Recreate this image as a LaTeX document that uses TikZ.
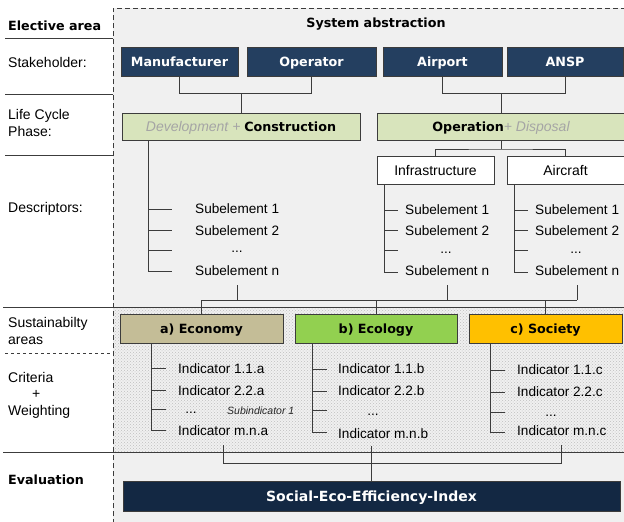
\documentclass[tikz,border=0pt]{standalone}
\usepackage{fontspec}
\setmainfont{Liberation Sans}
\newfontfamily\headfont{DejaVu Sans}
\usetikzlibrary{patterns}
\definecolor{paper}{RGB}{240,240,240}
\definecolor{stakeblue}{RGB}{36,63,96}
\definecolor{indexblue}{RGB}{19,40,67}
\definecolor{phasegreen}{RGB}{216,228,188}
\definecolor{econtan}{RGB}{196,189,151}
\definecolor{ecogreen}{RGB}{146,208,80}
\definecolor{socgold}{RGB}{255,192,0}
\definecolor{linegray}{RGB}{60,60,60}
\definecolor{softgray}{RGB}{165,165,165}
\newcommand\headtext[1]{{\headfont\bfseries\fontsize{12.7}{15}\selectfont #1}}

\tikzset{
  wire/.style={draw=linegray,line width=0.9pt},
  lbl/.style={anchor=west,inner sep=0pt,align=left,font=\fontsize{14}{16.5}\selectfont},
  hd/.style={font=\headfont\bfseries\fontsize{12.7}{15}\selectfont},
  box/.style={draw=linegray,line width=0.9pt,inner sep=0pt,text depth=0pt},
  stake/.style={box,hd,fill=stakeblue,text=white,minimum height=29pt,text height=9.3pt},
  lcphase/.style={box,fill=phasegreen,minimum height=27pt,text height=10pt,font=\fontsize{14}{17}\selectfont},
  desc/.style={box,fill=white,minimum height=28pt,text height=10pt,font=\fontsize{14}{17}\selectfont},
  sustbox/.style={box,hd,minimum height=29pt,text height=9.3pt},
  item/.style={anchor=west,inner sep=0pt,font=\fontsize{13.6}{16}\selectfont},
}

\begin{document}
\begin{tikzpicture}[x=1pt,y=-1pt]
\clip (0,0) rectangle (624,522);
\fill[white] (0,0) rectangle (624,522);
% working area with the shaded band
\fill[paper] (113,8) rectangle (640,540);
\fill[black!6] (113,308) rectangle (640,452);
\fill[pattern=crosshatch dots,pattern color=black!25] (113,308) rectangle (640,452);
\draw[linegray,line width=0.8pt,dash pattern=on 5pt off 3pt] (113,540) -- (113,8) -- (640,8);

% left column
\node[lbl,hd] (elective) at (8,26) {Elective area};
\draw[wire] (5,38) -- (113,38);
\node[lbl] (stakeh) at (8,62) {Stakeholder:};
\draw[wire] (5,94) -- (113,94);
\node[lbl] (lcp) at (8,123) {Life Cycle\\Phase:};
\draw[wire] (5,155) -- (113,155);
\node[lbl] (descr) at (8,209) {Descriptors:};
\draw[wire] (3,307.5) -- (624,307.5);
\node[lbl] (sareas) at (8,331) {Sustainabilty\\areas};
\draw[wire,dashed] (5,353) -- (113,353);
\node[lbl] (crit) at (8,395) {Criteria\\\hspace*{24pt}+\\Weighting};
\draw[wire] (3,452) -- (624,452);
\node[lbl,hd] (evalu) at (8,480) {Evaluation};

\node[hd] (sysabs) at (376,24) {System abstraction};

% stakeholders
\node[stake,minimum width=117pt] (manu) at (179.5,61.5) {Manufacturer};
\node[stake,minimum width=129pt] (oper) at (311.5,61.5) {Operator};
\node[stake,minimum width=119pt] (airp) at (442.5,61.5) {Airport};
\node[stake,minimum width=116pt] (ansp) at (565,61.5) {ANSP};

% life cycle
\node[lcphase,minimum width=238pt] (devcon) at (241,126.5)
  {\textcolor{softgray}{\itshape Development +} \headtext{Construction}};
\node[lcphase,minimum width=248pt] (opdis) at (501,126.5)
  {\headtext{Operation}\textcolor{softgray}{\itshape+ Disposal}};

\coordinate (busA) at (devcon.north |- 0,93.5);
\coordinate (busB) at (opdis.north |- 0,93.5);
\draw[wire] (manu.south) |- (busA) -| (oper.south);
\draw[wire] (busA) -- (devcon.north);
\draw[wire] (airp.south) |- (busB) -| (ansp.south);
\draw[wire] (busB) -- (opdis.north);

% descriptors
\node[desc,minimum width=117pt] (infra) at (435.5,170) {Infrastructure};
\node[desc,minimum width=117pt] (acft) at (565.5,170) {Aircraft};
\coordinate (busC) at (opdis.south |- 0,149);
\draw[wire] (opdis.south) -- (busC);
\draw[wire] (infra.north) |- (busC) -| (acft.north);

\node[item] (dc1) at (195,209) {Subelement 1};
\node[item] (dc2) at (195,231) {Subelement 2};
\node[item,anchor=center] (dc3) at (237,252) {...};
\node[item] (dcn) at (195,271) {Subelement n};
\draw[wire] (devcon.south -| 148,0) -- (148,271) -- (172,271);
\foreach \yy in {209,230,250} \draw[wire] (148,\yy) -- (172,\yy);

\node[item] (ic1) at (405,210) {Subelement 1};
\node[item] (ic2) at (405,231) {Subelement 2};
\node[item,anchor=center] (ic3) at (446,253) {...};
\node[item] (icn) at (405,271) {Subelement n};
\draw[wire] (infra.south -| 384,0) -- (384,272) -- (398,272);
\foreach \yy in {210,230,250} \draw[wire] (384,\yy) -- (398,\yy);

\node[item] (ac1) at (535,210) {Subelement 1};
\node[item] (ac2) at (535,231) {Subelement 2};
\node[item,anchor=center] (ac3) at (576,253) {...};
\node[item] (acn) at (535,271) {Subelement n};
\draw[wire] (acft.south -| 514,0) -- (514,272) -- (528,272);
\foreach \yy in {210,230,250} \draw[wire] (514,\yy) -- (528,\yy);

% sustainability areas
\node[sustbox,fill=econtan,minimum width=163pt] (econ) at (201.5,328.5) {a) Economy};
\node[sustbox,fill=ecogreen,minimum width=162pt] (ecol) at (376,328.5) {b) Ecology};
\node[sustbox,fill=socgold,minimum width=153pt] (soc) at (545.5,328.5) {c) Society};

\coordinate (busL) at (econ.north |- 0,300);
\coordinate (busR) at (acn.south |- 0,300);
\draw[wire] (busL) -- (busR);
\foreach \n in {econ,ecol,soc} \draw[wire] (\n.north) -- (\n.north |- busL);
\foreach \n in {dcn,icn,acn} \draw[wire] ([yshift=-9pt]\n.south) -- (\n.south |- busL);

% criteria and weighting
\node[item] (ai1) at (178,369) {Indicator 1.1.a};
\node[item] (ai2) at (178,391) {Indicator 2.2.a};
\node[item,anchor=center] (ai3) at (191,413) {...};
\node[item,font=\itshape\fontsize{10.5}{12}\selectfont,text=black!85] (asub) at (227,411) {Subindicator 1};
\node[item] (amn) at (178,431) {Indicator m.n.a};
\draw[wire] (econ.south -| 151,0) -- (151,430) -- (166,430);
\foreach \yy in {368,390,409} \draw[wire] (151,\yy) -- (166,\yy);

\node[item] (bi1) at (338,369) {Indicator 1.1.b};
\node[item] (bi2) at (338,391) {Indicator 2.2.b};
\node[item,anchor=center] (bi3) at (373,415) {...};
\node[item] (bmn) at (338,434) {Indicator m.n.b};
\draw[wire] (ecol.south -| 312,0) -- (312,432) -- (327,432);
\foreach \yy in {369,391,410} \draw[wire] (312,\yy) -- (327,\yy);

\node[item] (ci1) at (517,370) {Indicator 1.1.c};
\node[item] (ci2) at (517,392) {Indicator 2.2.c};
\node[item,anchor=center] (ci3) at (551,416) {...};
\node[item] (cmn) at (517,431) {Indicator m.n.c};
\draw[wire] (soc.south -| 490,0) -- (490,432) -- (505,432);
\foreach \yy in {370,392,412} \draw[wire] (490,\yy) -- (505,\yy);

% evaluation
\node[box,fill=indexblue,text=white,minimum width=497pt,minimum height=30pt,text height=10.2pt,
  font=\headfont\bfseries\fontsize{14}{17}\selectfont] (social) at (371.5,496)
  {Social-Eco-Efficiency-Index};
\coordinate (busE) at (0,463);
\draw[wire] ([yshift=-9pt]amn.south) |- (cmn.south |- busE) -- ([yshift=-9pt]cmn.south);
\draw[wire] (social.north) -- (social.north |- 0,446);
\end{tikzpicture}
\end{document}
